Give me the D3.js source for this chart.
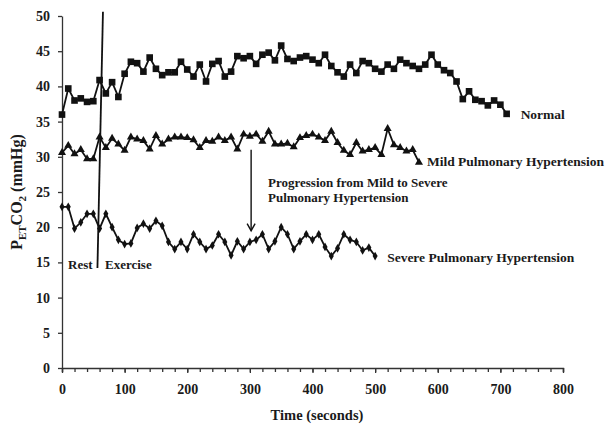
<!DOCTYPE html>
<html>
<head>
<meta charset="utf-8">
<script src="https://cdn.jsdelivr.net/npm/d3@7"></script>
<style>
  body { margin: 0; background: #fff; }
  svg text { font-family: "Liberation Serif", "Times New Roman", serif; font-weight: bold; fill: #1a1a1a; }
</style>
</head>
<body>
<div id="chart"></div>
<script>
// time in seconds, one reading every 10 s
const normal = [36, 39.7, 38, 38.3, 37.8, 37.9, 40.9, 39, 40.6, 38.5,
  41.8, 43.5, 43.3, 42.1, 44.1, 42.5, 41.6, 42, 42, 43.5,
  42.4, 41.4, 43.1, 40.7, 43.2, 43.6, 41.4, 42.1, 44.3, 44,
  44.3, 43.2, 44.5, 44.8, 43.7, 45.8, 43.9, 43.6, 44.1, 44.3,
  43.8, 43.3, 44.5, 42.9, 42, 41.4, 43.1, 41.9, 43.6, 43.3,
  42.5, 42.1, 43.1, 42.5, 43.8, 43.3, 42.9, 42.5, 43.1, 44.5,
  43.1, 42.3, 41.9, 40.7, 38.2, 39.3, 38.1, 37.9, 37.3, 38,
  37.4, 36.1];
const mild = [30.6, 31.6, 30.4, 31, 29.7, 29.7, 32.8, 31.3, 32.6, 31.8,
  30.9, 32.8, 32.5, 32.3, 31.1, 33, 31.8, 32.5, 32.8, 32.8,
  32.7, 32.4, 31.3, 32.3, 32.2, 32.8, 32.3, 32.8, 31.1, 33.2,
  32.9, 33.2, 32.2, 33.6, 31.8, 31.8, 31.9, 31.4, 32.7, 33,
  33.2, 32.8, 32.3, 33.6, 32, 30.9, 30.3, 32, 30.8, 31,
  31.3, 30.3, 34, 31.7, 31.3, 30.8, 31, 29.2];
const severe = [22.9, 22.9, 19.8, 20.7, 21.9, 21.9, 19.8, 21.9, 20, 18.2,
  17.6, 17.7, 19.9, 20.5, 19.8, 20.9, 20.2, 17.9, 16.9, 17.9,
  16.9, 19, 17.9, 16.9, 17.4, 19, 17.9, 16, 18, 16.9,
  17.9, 18.2, 19, 16.9, 18, 20, 19, 16.9, 18, 19,
  18.2, 19, 17.2, 15.9, 17, 19, 18.2, 17.9, 16.7, 17.1,
  15.9];
const step = 10;
const xTicks = [0, 100, 200, 300, 400, 500, 600, 700, 800];
const yTicks = [0, 5, 10, 15, 20, 25, 30, 35, 40, 45, 50];
const seriesNames = ["Normal", "Mild Pulmonary Hypertension", "Severe Pulmonary Hypertension"];
// rest / exercise divider and progression arrow, in data units
const divider = [[65.4, 50.6], [56.6, 14.2]];
const arrow = [[302, 31], [302, 19.5]];

const width = 606, height = 424;
const svg = d3.select("#chart").append("svg")
  .attr("width", width).attr("height", height);

const x = d3.scaleLinear().domain([0, 800]).range([62, 563]);
const y = d3.scaleLinear().domain([0, 50]).range([368, 16]);

// axes
svg.append("g")
  .attr("transform", `translate(0,${y(0)})`)
  .call(d3.axisBottom(x).tickValues(d3.range(0, 801, 20)).tickSize(4).tickFormat(""))
  .call(g => g.selectAll("line, path").attr("stroke", "#333").attr("stroke-width", 1.3));

svg.append("g")
  .attr("transform", `translate(0,${y(0)})`)
  .call(d3.axisBottom(x).tickValues(xTicks).tickSize(5).tickSizeOuter(0).tickPadding(11))
  .call(g => g.select(".domain").remove())
  .call(g => g.selectAll("line").attr("stroke", "#333").attr("stroke-width", 1.3))
  .call(g => g.selectAll("text").attr("font-size", 14).attr("fill", "#1a1a1a"));

svg.append("g")
  .attr("transform", `translate(${x(0)},0)`)
  .call(d3.axisLeft(y).tickValues(yTicks).tickSize(4).tickSizeOuter(0).tickPadding(8))
  .call(g => g.selectAll("line, path").attr("stroke", "#333").attr("stroke-width", 1.3))
  .call(g => g.selectAll("text").attr("font-size", 14).attr("fill", "#1a1a1a"));

svg.append("text")
  .attr("x", 317).attr("y", 420)
  .attr("text-anchor", "middle").attr("font-size", 14.5)
  .text("Time (seconds)");

const yl = svg.append("text")
  .attr("transform", `translate(22,${192}) rotate(-90)`)
  .attr("text-anchor", "middle").attr("font-size", 16);
yl.append("tspan").text("P");
yl.append("tspan").attr("font-size", 11).attr("dy", 4).text("ET");
yl.append("tspan").attr("dy", -4).text("CO");
yl.append("tspan").attr("font-size", 11).attr("dy", 4).text("2");
yl.append("tspan").attr("dy", -4).text(" (mmHg)");

// series
const line = d3.line().x((d, i) => x(i * step)).y(d => y(d));
const symbols = [
  d3.symbol().type(d3.symbolSquare).size(44),
  d3.symbol().type(d3.symbolTriangle).size(28),
  d3.symbol().type(d3.symbolDiamond).size(22)
];
const labelOffset = [[14, 5], [8, 4], [12, 5.5]];

[normal, mild, severe].forEach((data, k) => {
  svg.append("path").datum(data)
    .attr("d", line)
    .attr("fill", "none").attr("stroke", "#111").attr("stroke-width", 1.8);
  svg.append("g").selectAll("path").data(data).join("path")
    .attr("transform", (d, i) => `translate(${x(i * step)},${y(d)})`)
    .attr("d", symbols[k]).attr("fill", "#111");
  const last = data.length - 1;
  svg.append("text")
    .attr("x", x(last * step) + labelOffset[k][0])
    .attr("y", y(data[last]) + labelOffset[k][1])
    .attr("font-size", 13.5)
    .text(seriesNames[k]);
});

// rest / exercise divider
svg.append("line")
  .attr("x1", x(divider[0][0])).attr("y1", y(divider[0][1]))
  .attr("x2", x(divider[1][0])).attr("y2", y(divider[1][1]))
  .attr("stroke", "#111").attr("stroke-width", 1.8);
svg.append("text").attr("x", 68).attr("y", 269).attr("font-size", 13).text("Rest");
svg.append("text").attr("x", 105).attr("y", 269).attr("font-size", 13).text("Exercise");

// progression arrow
const ax = x(arrow[0][0]), ay0 = y(arrow[0][1]), ay1 = y(arrow[1][1]);
svg.append("line")
  .attr("x1", ax).attr("y1", ay0).attr("x2", ax).attr("y2", ay1)
  .attr("stroke", "#111").attr("stroke-width", 1.4);
svg.append("path")
  .attr("d", `M${ax - 4},${ay1 - 7}L${ax},${ay1}L${ax + 4},${ay1 - 7}`)
  .attr("fill", "none").attr("stroke", "#111").attr("stroke-width", 1.4);
svg.append("text").attr("x", 268).attr("y", 187).attr("font-size", 13)
  .text("Progression from Mild to Severe");
svg.append("text").attr("x", 268).attr("y", 202).attr("font-size", 13)
  .text("Pulmonary Hypertension");
</script>
</body>
</html>
